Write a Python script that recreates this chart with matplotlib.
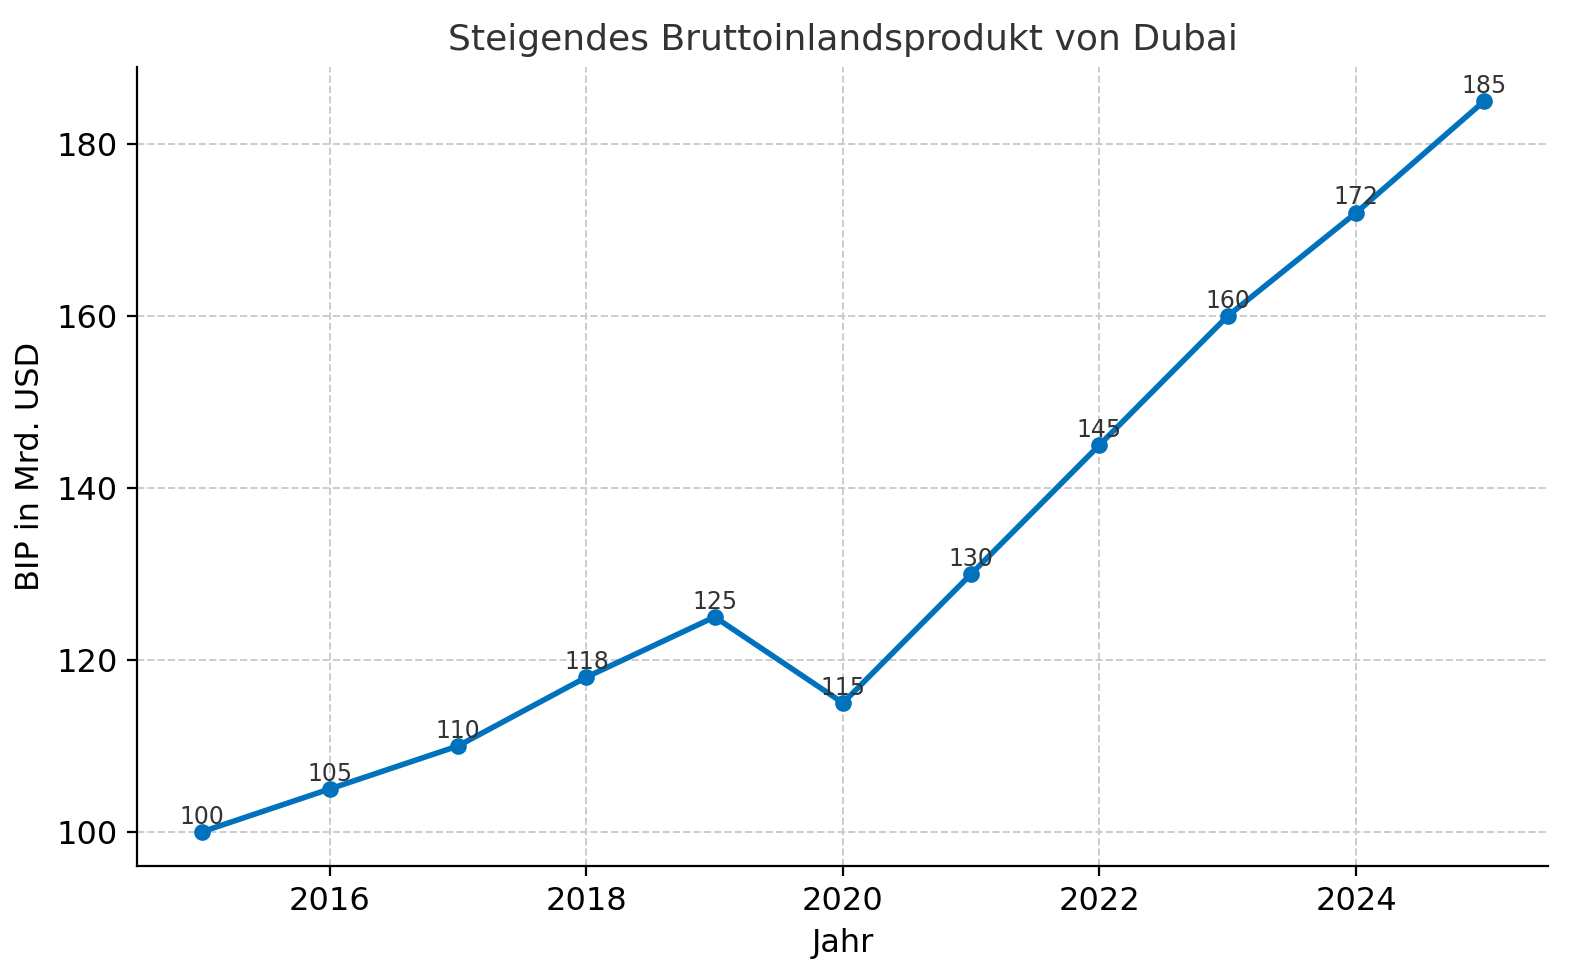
import matplotlib
matplotlib.use("Agg")
import matplotlib.pyplot as plt

years = [2015, 2016, 2017, 2018, 2019, 2020, 2021, 2022, 2023, 2024, 2025]
gdp = [100, 105, 110, 118, 125, 115, 130, 145, 160, 172, 185]

fig, ax = plt.subplots(figsize=(7.9, 4.9), dpi=200)
ax.plot(years, gdp, marker="o", color="#0072BD", linewidth=2, markersize=5)
for x, y in zip(years, gdp):
    ax.annotate(str(y), (x, y), textcoords="offset points", xytext=(0, 3),
                ha="center", fontsize=8.5, color="#333333")

ax.set_title("Steigendes Bruttoinlandsprodukt von Dubai", fontsize=13, color="#333333")
ax.set_xlabel("Jahr", fontsize=11.5)
ax.set_ylabel("BIP in Mrd. USD", fontsize=11.5)
ax.tick_params(labelsize=11.5)
ax.set_xticks([2016, 2018, 2020, 2022, 2024])
ax.set_yticks([100, 120, 140, 160, 180])
ax.set_xlim(2014.5, 2025.5)
ax.set_ylim(96, 189)
ax.grid(True, linestyle="--", color="#cccccc", linewidth=0.7)
ax.spines["top"].set_visible(False)
ax.spines["right"].set_visible(False)
fig.subplots_adjust(left=0.087, right=0.98, top=0.932, bottom=0.116)
fig.savefig("out.png")
